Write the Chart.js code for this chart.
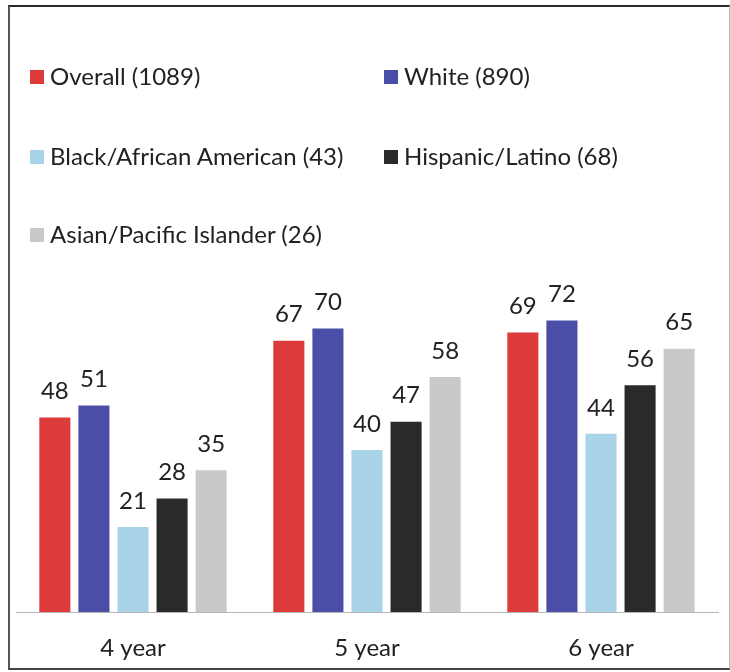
<!DOCTYPE html>
<html lang="en">
<head>
<meta charset="UTF-8">
<title>Graduation rates by race/ethnicity</title>
<script src="https://cdn.jsdelivr.net/npm/chart.js"></script>
<style>
  html, body { margin: 0; padding: 0; background: #fff; }
  .wrap { position: relative; width: 730px; height: 672px; overflow: hidden; font-family: Lato, "Open Sans", sans-serif; }
  .frame { position: absolute; left: 8px; top: 5px; width: 719px; height: 661px;
           border-top: 2px solid #2a2a2a; border-left: 2px solid #555; border-bottom: 2px solid #444; border-right: 1px solid #bbb; }
  canvas { position: absolute; left: 0; top: 0; }
  .legend { position: absolute; left: 0; top: 0; }
  .legend-item { position: absolute; display: flex; align-items: center; font-size: 24px; color: #222; white-space: nowrap; }
  .legend-item .sw { width: 14px; height: 14px; margin-right: 6px; margin-top: 3px; }
</style>
</head>
<body>
<div class="wrap">
  <div class="frame"></div>
  <canvas id="chart" width="730" height="672"></canvas>
  <div class="legend" id="legend"></div>
</div>
<script>
  // categories and series
  const years = ['4 year', '5 year', '6 year'];
  const seriesNames = [
    'Overall (1089)',
    'White (890)',
    'Black/African American (43)',
    'Hispanic/Latino (68)',
    'Asian/Pacific Islander (26)'
  ];
  const overall = [48, 67, 69];
  const white = [51, 70, 72];
  const black = [21, 40, 44];
  const hispanic = [28, 47, 56];
  const asian = [35, 58, 65];
  const barColors = ['#dc3a3b', '#4a4ea6', '#a9d3e9', '#2b2929', '#c9c9c9'];

  const allValues = [overall, white, black, hispanic, asian];

  // legend (html, 2 columns)
  const legendPos = [[30, 77], [384, 77], [30, 157], [384, 157], [30, 235]];
  const legendEl = document.getElementById('legend');
  seriesNames.forEach((name, i) => {
    const item = document.createElement('div');
    item.className = 'legend-item';
    item.style.left = legendPos[i][0] + 'px';
    item.style.top = (legendPos[i][1] - 16) + 'px';
    item.innerHTML = `<span class="sw" style="background:${barColors[i]}"></span>${name}`;
    legendEl.appendChild(item);
  });

  // value labels above bars
  const valueLabels = {
    id: 'valueLabels',
    afterDatasetsDraw(chart) {
      const ctx = chart.ctx;
      ctx.save();
      ctx.font = '24px Lato, "Open Sans", sans-serif';
      ctx.fillStyle = '#222';
      ctx.textAlign = 'center';
      ctx.textBaseline = 'bottom';
      chart.data.datasets.forEach((ds, i) => {
        chart.getDatasetMeta(i).data.forEach((bar, j) => {
          ctx.fillText(ds.data[j], bar.x, bar.y - 14);
        });
      });
      ctx.restore();
    }
  };

  new Chart(document.getElementById('chart'), {
    type: 'bar',
    data: {
      labels: years,
      datasets: seriesNames.map((name, i) => ({
        label: name,
        data: allValues[i],
        backgroundColor: barColors[i],
        borderWidth: 0,
        categoryPercentage: 0.835,
        barPercentage: 0.795
      }))
    },
    options: {
      responsive: false,
      animation: false,
      layout: { padding: { left: 16, right: 12, top: 207, bottom: 0 } },
      plugins: { legend: { display: false }, tooltip: { enabled: false } },
      scales: {
        x: {
          grid: { display: false, drawTicks: false },
          border: { display: true, color: '#b5b5b5', dash: [2, 2], width: 1 },
          ticks: { color: '#222', font: { family: 'Lato, "Open Sans", sans-serif', size: 24 }, padding: 22 },
          afterFit: s => { s.height = 60; }
        },
        y: {
          display: false,
          min: 0,
          max: 100
        }
      }
    },
    plugins: [valueLabels]
  });
</script>
</body>
</html>
